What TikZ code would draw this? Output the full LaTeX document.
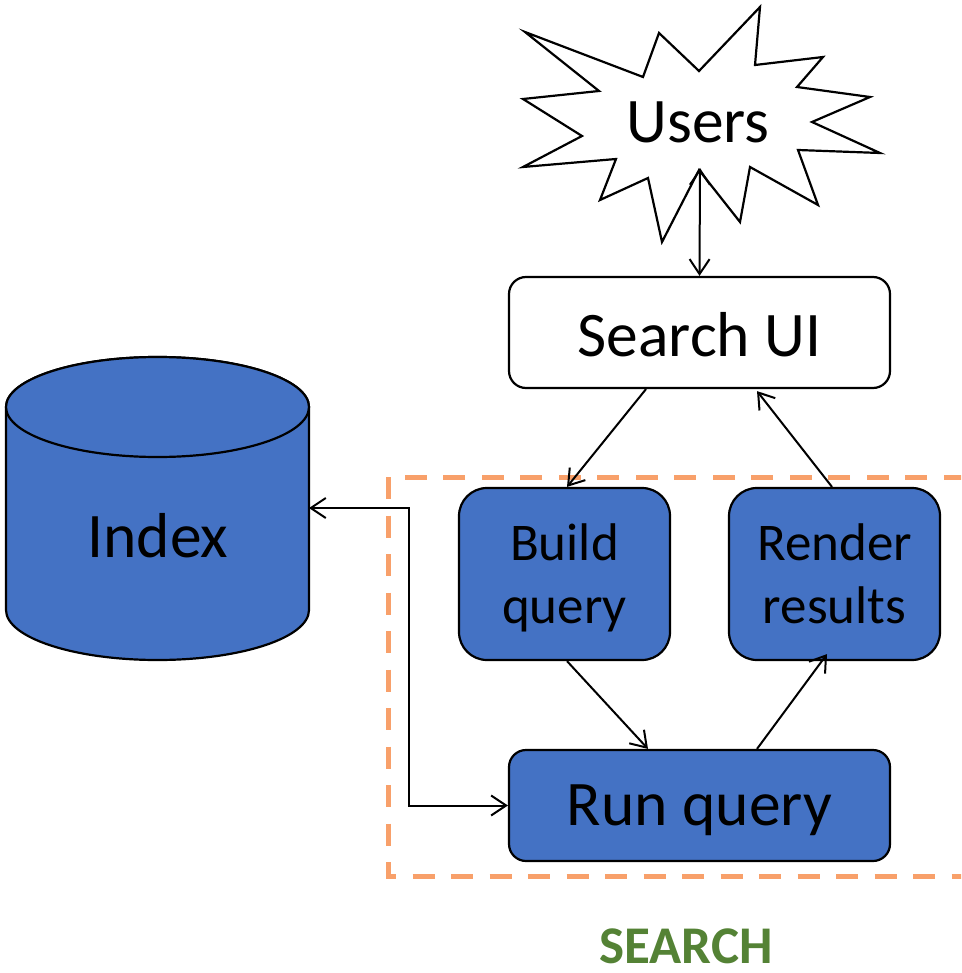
\documentclass[tikz,border=0pt]{standalone}
\usepackage{fontspec}
\setmainfont{Carlito}
\usetikzlibrary{arrows.meta}
\definecolor{boxblue}{RGB}{68,114,196}
\definecolor{dashorange}{RGB}{248,160,106}
\definecolor{labelgreen}{RGB}{84,130,53}
\tikzset{
  bigfont/.style={font=\fontsize{63.5}{76}\selectfont},
  smallfont/.style={font=\fontsize{53}{63}\selectfont},
  whitebox/.style={draw=black, line width=2.2pt, fill=white, rounded corners=17pt, bigfont, inner sep=0pt, text depth=0pt},
  bluebox/.style={draw=black, line width=2.2pt, fill=boxblue, rounded corners=17pt, bigfont, inner sep=0pt, text depth=0pt},
  bluebigbox/.style={draw=black, line width=2.2pt, fill=boxblue, rounded corners=28pt, smallfont, inner sep=0pt, align=center, text depth=0pt},
  arr/.style={line width=2pt, -{Straight Barb[length=15pt,width=20pt,line width=2pt]}},
  dblarr/.style={line width=2pt, {Straight Barb[length=15pt,width=20pt,line width=2pt]}-{Straight Barb[length=15pt,width=20pt,line width=2pt]}},
}
\begin{document}
\begin{tikzpicture}[x=1pt,y=-1pt]
\useasboundingbox (0,0) rectangle (961,973);
\begin{scope}
\clip (0,0) rectangle (961,973);
\draw[dashorange, line width=5pt, dash pattern=on 22pt off 16.5pt] (388,477) rectangle (990,876);
\end{scope}
% Users starburst
\draw[line width=2.2pt, fill=white, line join=miter]
  (525,32) -- (643,77) -- (659,33) -- (699,71) -- (760,7) -- (755,65) -- (823,57) -- (797,87)
  -- (870,97) -- (812,122) -- (880,153) -- (798,150) -- (818,205) -- (750,167) -- (740,222)
  -- (699,170) -- (662,242) -- (648,178) -- (600,200) -- (616,159) -- (523,167) -- (582,136)
  -- (523,99) -- (599,91) -- cycle;
\node[bigfont] (users) at (698,122) {Users};
\coordinate (usersfoot) at (700,168);
% Index cylinder
\draw[line width=2.2pt, fill=boxblue] (6,407) -- (6,610) arc[start angle=180, end angle=0, x radius=151.5, y radius=50] -- (309,407) arc[start angle=0, end angle=-180, x radius=151.5, y radius=50] -- cycle;
\draw[line width=2.2pt, fill=boxblue] (157.5,407) ellipse[x radius=151.5, y radius=50];
\node[bigfont] (index) at (158,536) {Index};
\coordinate (idxe) at (309,508);
% Boxes
\node[whitebox, minimum width=381pt, minimum height=111pt] (ui) at (699.5,332.5) {\raisebox{-3pt}{Search UI}};
\node[bluebigbox, minimum width=211pt, minimum height=172pt] (build) at (564.5,574) {Build\\query};
\node[bluebigbox, minimum width=211pt, minimum height=172pt] (render) at (834.5,574) {Render\\results};
\node[bluebox, minimum width=381pt, minimum height=111pt] (run) at (699.5,805.5) {Run query};
% Connectors
\draw[dblarr] (usersfoot) -- (ui.north);
\draw[arr] ([xshift=-53.5pt]ui.south) -- ([xshift=2.5pt]build.north);
\draw[arr] ([xshift=-2.5pt]render.north) -- ([xshift=57.5pt, yshift=-2pt]ui.south);
\draw[arr] ([xshift=2.5pt]build.south) -- ([xshift=-51.5pt]run.north);
\draw[arr] ([xshift=57.5pt]run.north) -- ([xshift=-7.5pt, yshift=7pt]render.south);
\draw[dblarr] (idxe) -| ([xshift=-99pt]run.west) -- (run.west);
% Label
\node[font=\fontsize{53}{64}\selectfont\bfseries, text=labelgreen, inner sep=0pt] (label) at (686,946) {SEARCH};
\end{tikzpicture}
\end{document}
